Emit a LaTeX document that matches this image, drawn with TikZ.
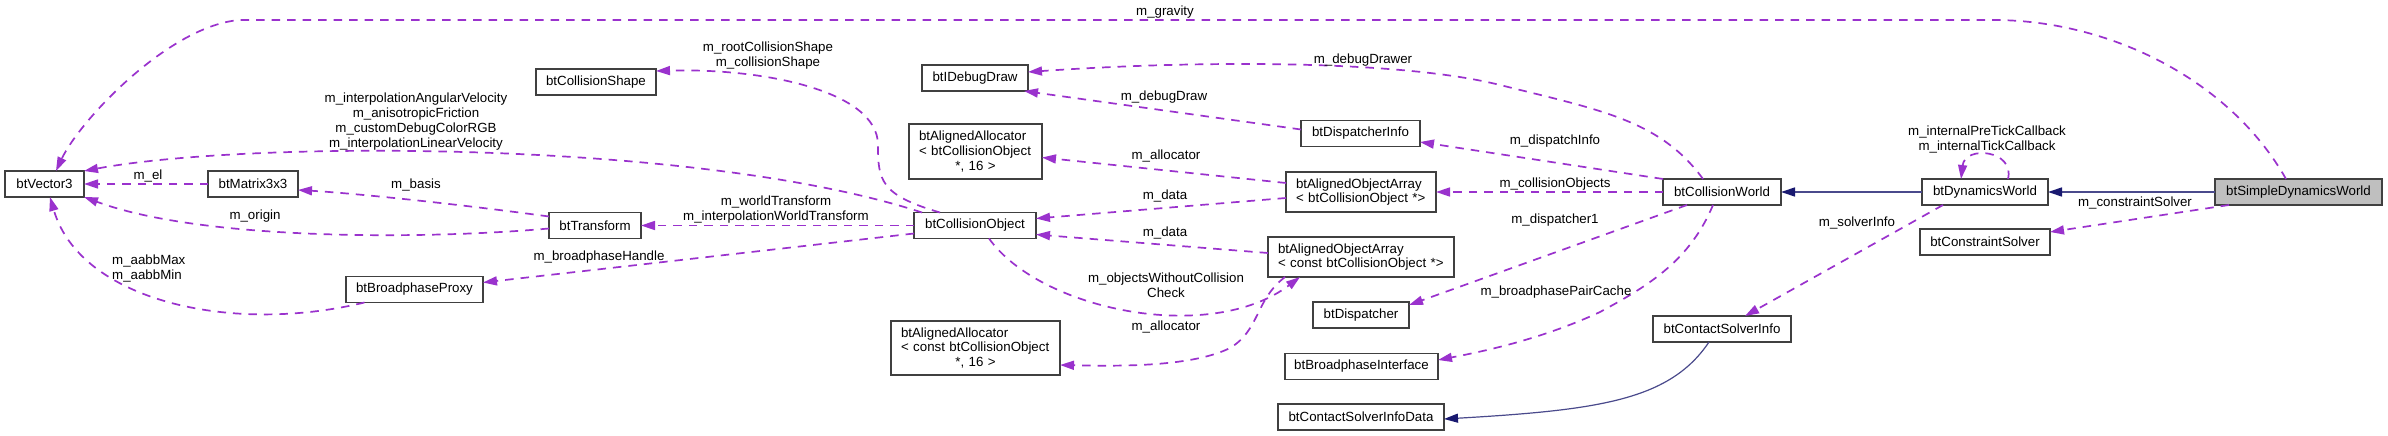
\documentclass[tikz,border=0pt]{standalone}
\usepackage{fontspec}
\setmainfont{Liberation Sans}
\usetikzlibrary{arrows.meta}
\definecolor{usecol}{HTML}{9A32CD}
\definecolor{inhcol}{HTML}{191970}
\definecolor{inhline}{HTML}{4A4A8C}
\definecolor{boxline}{HTML}{404040}
\definecolor{focusfill}{HTML}{BFBFBF}
\begin{document}
\begin{tikzpicture}[x=1pt,y=-1pt,
  cls/.style={draw=boxline, line width=1.2pt, fill=white, inner sep=0pt, outer sep=0pt,
    minimum height=26pt, font=\fontsize{13.3}{14.6}\selectfont, align=center},
  focus/.style={cls, fill=focusfill},
  mcls/.style={cls, align=left, inner xsep=10pt},
  uses/.style={draw=usecol, line width=1.7pt, dash pattern=on 8.5pt off 7pt,
    -{Triangle[length=14pt,width=9pt]}},
  inh/.style={draw=inhline, line width=1.4pt, -{Triangle[length=14pt,width=9pt,fill=inhcol,color=inhcol]}},
  lbl/.style={font=\fontsize{13.3}{15}\selectfont, inner sep=0pt, align=center}]
\useasboundingbox (0,0) rectangle (2388,436);
\fill[white] (0,0) rectangle (2388,436);

% classes
\node[cls, minimum width=79pt] (vec) at (44.5,184) {btVector3};
\node[cls, minimum width=90pt] (mat) at (253,184) {btMatrix3x3};
\node[cls, minimum width=120pt] (cshape) at (596,82) {btCollisionShape};
\node[cls, minimum width=92pt] (trans) at (595,225.5) {btTransform};
\node[cls, minimum width=137pt] (bproxy) at (414.5,289.5) {btBroadphaseProxy};
\node[cls, minimum width=106pt] (idebug) at (975,78) {btIDebugDraw};
\node[mcls, text width=113pt, minimum height=55pt] (alloca) at (975.5,151.5)
  {btAlignedAllocator\\< btCollisionObject\\\makebox[\linewidth]{*, 16 >}};
\node[cls, minimum width=119pt] (dinfo) at (1360.5,133.5) {btDispatcherInfo};
\node[mcls, text width=130pt, minimum height=40pt] (arra) at (1361,192)
  {btAlignedObjectArray\\< btCollisionObject *>};
\node[cls, minimum width=122pt] (cobj) at (975,225.5) {btCollisionObject};
\node[mcls, text width=166pt, minimum height=40pt] (arrb) at (1361,257)
  {btAlignedObjectArray\\< const btCollisionObject *>};
\node[mcls, text width=149pt, minimum height=54pt] (allocb) at (975.5,348)
  {btAlignedAllocator\\< const btCollisionObject\\\makebox[\linewidth]{*, 16 >}};
\node[cls, minimum width=96pt] (disp) at (1361,315) {btDispatcher};
\node[cls, minimum width=153pt] (bpi) at (1361.5,366.5) {btBroadphaseInterface};
\node[cls, minimum width=166pt] (csid) at (1361,417) {btContactSolverInfoData};
\node[cls, minimum width=118pt] (cworld) at (1722,192) {btCollisionWorld};
\node[cls, minimum width=126pt] (dworld) at (1985,192) {btDynamicsWorld};
\node[focus, minimum width=167pt] (sdworld) at (2298.5,192) {btSimpleDynamicsWorld};
\node[cls, minimum width=130pt] (csolver) at (1985,242) {btConstraintSolver};
\node[cls, minimum width=138pt] (csi) at (1722,329) {btContactSolverInfo};

% usage edges
\draw[uses] ([xshift=-12.5pt]sdworld.north) .. controls (2230,80) and (2110,20) .. (1993,20)
  -- (240,20) .. controls (170,25) and (80,120) .. ([xshift=11.5pt]vec.north);
\draw[uses] ([xshift=8pt]cobj.north west) .. controls (700,140) and (250,140) .. (vec.north east);
\draw[uses] ([xshift=-35pt]cobj.north) .. controls (880,195) and (878,180) .. (878,145)
  .. controls (878,90) and (760,68) .. ([yshift=11pt]cshape.east);
\draw[uses] (mat.west) -- (vec.east);
\draw[uses] ([yshift=9pt]trans.west) .. controls (450,203) and (350,193) .. ([yshift=-6pt]mat.east);
\draw[uses] ([yshift=-3pt]trans.west) .. controls (420,240) and (200,240) .. (vec.south east);
\draw[uses] (cobj.west) -- (trans.east);
\draw[uses] ([xshift=-50pt]bproxy.south) .. controls (230,335) and (80,300) .. ([xshift=5.5pt]vec.south);
\draw[uses] ([yshift=-8pt]cobj.west) -- ([yshift=7pt]bproxy.east);
\draw[uses] ([xshift=14pt]cobj.south) .. controls (1040,310) and (1210,345) .. ([xshift=-61pt]arrb.south);
\draw[uses] ([xshift=-76pt]arrb.south) .. controls (1255,300) and (1260,330) .. (1230,348)
  .. controls (1190,368) and (1110,366) .. ([yshift=-17pt]allocb.east);
\draw[uses] ([yshift=4pt]arrb.west) -- ([yshift=-9pt]cobj.east);
\draw[uses] ([yshift=-6pt]arra.west) -- ([yshift=7pt]cobj.east);
\draw[uses] ([yshift=9pt]arra.west) -- ([yshift=-6pt]alloca.east);
\draw[uses] ([yshift=4pt]dinfo.west) -- ([xshift=-4pt]idebug.south east);
\draw[uses] ([xshift=-19pt]cworld.north) .. controls (1660,120) and (1600,110) .. (1500,85)
  .. controls (1400,60) and (1200,60) .. ([yshift=6pt]idebug.east);
\draw[uses] (cworld.north west) -- ([yshift=-8.5pt]dinfo.east);
\draw[uses] (cworld.west) -- (arra.east);
\draw[uses] ([xshift=-35pt]cworld.south) -- ([yshift=10pt]disp.east);
\draw[uses] ([xshift=-9pt]cworld.south) .. controls (1690,260) and (1650,285) .. (1600,312)
  .. controls (1540,340) and (1480,352) .. ([yshift=6.5pt]bpi.east);
\draw[uses] ([xshift=23pt]dworld.north) .. controls (2015,150) and (1965,145) .. ([xshift=-24pt]dworld.north);
\draw[uses] ([xshift=-69.5pt]sdworld.south) -- ([yshift=10pt]csolver.east);
\draw[uses] ([xshift=-42pt]dworld.south) -- ([xshift=23pt]csi.north);

% inheritance edges
\draw[inh] (dworld.west) -- (cworld.east);
\draw[inh] (sdworld.west) -- (dworld.east);
\draw[inh, line width=1.2pt] ([xshift=-13pt]csi.south) .. controls (1670,400) and (1600,410) .. ([yshift=-2pt]csid.east);

% labels
\node[lbl] (lgrav) at (1165,12) {m\_gravity};
\node[lbl] (lvel) at (416,121.5) {m\_interpolationAngularVelocity\\m\_anisotropicFriction\\m\_customDebugColorRGB\\m\_interpolationLinearVelocity};
\node[lbl] (lel) at (148,176) {m\_el};
\node[lbl] (lbasis) at (416,185) {m\_basis};
\node[lbl] (lorigin) at (255,216) {m\_origin};
\node[lbl] (lshape) at (768,55.5) {m\_rootCollisionShape\\m\_collisionShape};
\node[lbl] (lwt) at (776,210) {m\_worldTransform\\m\_interpolationWorldTransform};
\node[lbl, anchor=west, align=left] (laabb) at (112,268.5) {m\_aabbMax\\m\_aabbMin};
\node[lbl] (lbh) at (599,257) {m\_broadphaseHandle};
\node[lbl] (ldd) at (1363,60) {m\_debugDrawer};
\node[lbl] (ldraw) at (1164,97) {m\_debugDraw};
\node[lbl] (lalloca) at (1166,156) {m\_allocator};
\node[lbl] (ldataa) at (1165,196) {m\_data};
\node[lbl] (ldatab) at (1165,233) {m\_data};
\node[lbl] (lowc) at (1166,285.5) {m\_objectsWithoutCollision\\Check};
\node[lbl] (lallocb) at (1166,327) {m\_allocator};
\node[lbl] (ldi) at (1555,141) {m\_dispatchInfo};
\node[lbl] (lco) at (1555,184) {m\_collisionObjects};
\node[lbl] (ld1) at (1555,220) {m\_dispatcher1};
\node[lbl] (lbpc) at (1556,292) {m\_broadphasePairCache};
\node[lbl] (ltick) at (1987,139.5) {m\_internalPreTickCallback\\m\_internalTickCallback};
\node[lbl] (lcs) at (2135,203) {m\_constraintSolver};
\node[lbl] (lsi) at (1857,223) {m\_solverInfo};
\end{tikzpicture}
\end{document}
